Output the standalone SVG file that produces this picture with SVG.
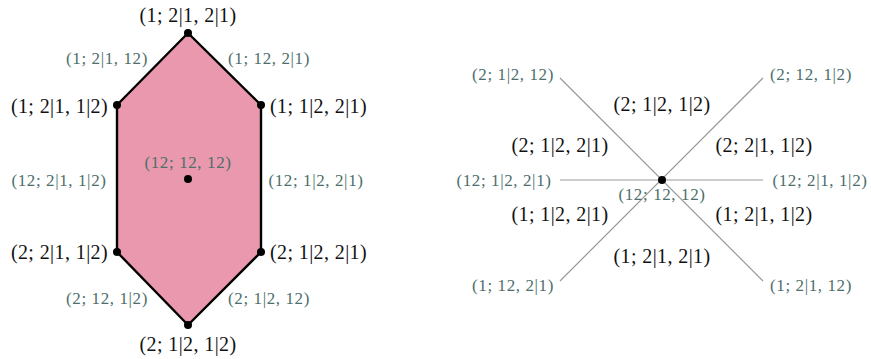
<svg xmlns="http://www.w3.org/2000/svg" width="871" height="359" viewBox="0 0 871 359">
<style>
text{font-family:"Liberation Serif","DejaVu Serif",serif;dominant-baseline:central}
.b{font-size:20px;fill:#111;letter-spacing:0.4px}
.g{font-size:17px;fill:#4d6f6c;letter-spacing:0.6px}
.m{text-anchor:middle}
.e{text-anchor:end}
.ray{stroke:#9a9a9a;stroke-width:1.2;fill:none}
</style>
<rect width="871" height="359" fill="#fff"/>
<g id="hexagon">
<polygon points="188,33 261,105 261,252 188,325 117,252 117,105" fill="#ea98ad" stroke="#000" stroke-width="2.4" stroke-linejoin="round"/>
</g>
<g id="hex-vertices" fill="#000">
<circle cx="188" cy="33" r="4"/><circle cx="117" cy="105" r="4"/><circle cx="261" cy="105" r="4"/>
<circle cx="117" cy="252" r="4"/><circle cx="261" cy="252" r="4"/><circle cx="188" cy="325" r="4"/>
<circle cx="188" cy="179" r="4"/>
</g>
<g id="hex-labels">
<text class="b m" x="188" y="15">(1; 2|1, 2|1)</text>
<text class="g m" x="107" y="58">(1; 2|1, 12)</text>
<text class="g m" x="269" y="58">(1; 12, 2|1)</text>
<text class="b e" x="108" y="106">(1; 2|1, 1|2)</text>
<text class="b" x="270" y="106">(1; 1|2, 2|1)</text>
<text class="g m" x="188" y="162">(12; 12, 12)</text>
<text class="g m" x="59" y="180">(12; 2|1, 1|2)</text>
<text class="g m" x="316" y="180">(12; 1|2, 2|1)</text>
<text class="b e" x="108" y="252">(2; 2|1, 1|2)</text>
<text class="b" x="270" y="252">(2; 1|2, 2|1)</text>
<text class="g m" x="107" y="298">(2; 12, 1|2)</text>
<text class="g m" x="269" y="298">(2; 1|2, 12)</text>
<text class="b m" x="188" y="344">(2; 1|2, 1|2)</text>
</g>
<g id="fan-rays">
<line class="ray" x1="560" y1="78" x2="763" y2="281"/>
<line class="ray" x1="763" y1="78" x2="560" y2="281"/>
<line class="ray" x1="560" y1="180" x2="763" y2="180"/>
</g>
<g id="fan-center"><circle cx="662" cy="180" r="4" fill="#000"/></g>
<g id="fan-labels">
<text class="g m" x="513" y="74">(2; 1|2, 12)</text>
<text class="g m" x="811" y="74">(2; 12, 1|2)</text>
<text class="b m" x="662" y="104">(2; 1|2, 1|2)</text>
<text class="b m" x="560" y="145">(2; 1|2, 2|1)</text>
<text class="b m" x="764" y="145">(2; 2|1, 1|2)</text>
<text class="g m" x="504" y="180">(12; 1|2, 2|1)</text>
<text class="g m" x="820" y="180">(12; 2|1, 1|2)</text>
<text class="g m" x="662" y="194">(12; 12, 12)</text>
<text class="b m" x="560" y="214">(1; 1|2, 2|1)</text>
<text class="b m" x="764" y="214">(1; 2|1, 1|2)</text>
<text class="b m" x="662" y="256">(1; 2|1, 2|1)</text>
<text class="g m" x="513" y="285">(1; 12, 2|1)</text>
<text class="g m" x="811" y="285">(1; 2|1, 12)</text>
</g>
</svg>
